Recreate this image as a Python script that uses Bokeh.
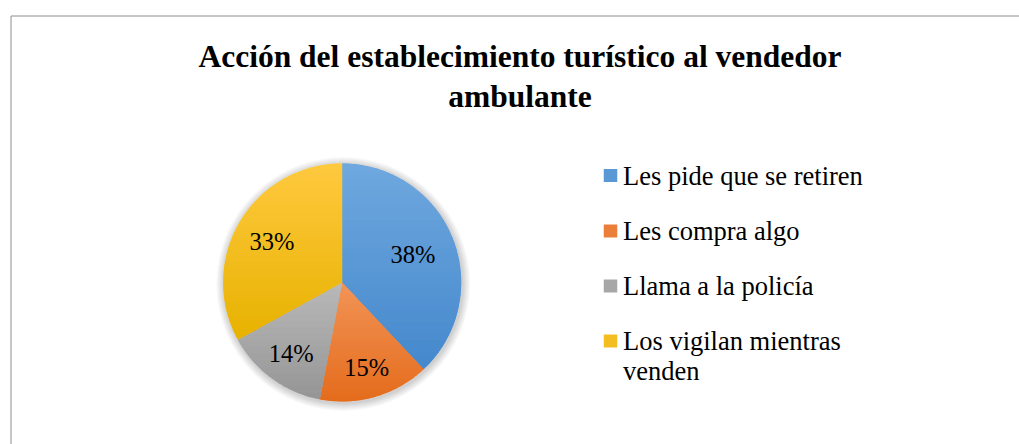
import numpy as np
from bokeh.plotting import figure
from bokeh.models import Range1d
from bokeh.core.properties import value
from bokeh.embed import file_html
from bokeh.resources import INLINE

# ---------------- data ----------------
title_lines = ["Acción del establecimiento turístico al vendedor", "ambulante"]
categories = ["Les pide que se retiren", "Les compra algo", "Llama a la policía",
              "Los vigilan mientras\nvenden"]
values = [38, 15, 14, 33]
pct_labels = ["38%", "15%", "14%", "33%"]

# ---------------- style ----------------
top_colors = ["#6FA8DF", "#F29458", "#B9B9B9", "#FFC93F"]
bot_colors = ["#4488CC", "#E46C1C", "#959595", "#E7B200"]
mid_colors = ["#5A98D6", "#EB7F3A", "#A7A7A7", "#F3BE1F"]
FONT = "Liberation Serif"
TDY = 8.0  # text baseline correction (px, upward)

W, H = 1019, 444
OX, OY = 0, 0
def px(X):  # image x -> data x
    return X - OX
def py(Y):  # image y -> data y
    return H - (Y - OY)

p = figure(width=W, height=H, x_range=Range1d(0, W), y_range=Range1d(0, H),
           output_backend="svg", toolbar_location=None, min_border=0,
           outline_line_color=None, background_fill_color="white",
           border_fill_color="white")
p.axis.visible = False
p.grid.visible = False

# chart border (cropped: only top and left visible)
p.line([px(10.5), px(10.5), px(1040)], [py(470), py(15.5), py(15.5)],
       line_color="#8E8E8E", line_width=1)

# ---------------- pie ----------------
cx, cy, R = px(341.7), py(282.0), 119.0

# soft shadow
for k in range(1, 9):
    p.circle(x=[cx + 1.0], y=[cy - 1.5], radius=R + k, fill_color="black",
             fill_alpha=0.022, line_color=None)
p.circle(x=[cx], y=[cy], radius=R, fill_color="white", line_color=None)

vals = np.array(values, dtype=float)
frac = vals / vals.sum()
cum = np.concatenate([[0], np.cumsum(frac)])
start = np.pi / 2 - 2 * np.pi * cum[:-1]
end = np.pi / 2 - 2 * np.pi * cum[1:]

# base wedges (solid)
p.wedge(x=cx, y=cy, radius=R, start_angle=end, end_angle=start,
        fill_color=mid_colors, line_color=None)

def clip(poly, yb, keep_above):
    out = []
    n = len(poly)
    for i in range(n):
        a = poly[i]; b = poly[(i + 1) % n]
        ina = a[1] >= yb if keep_above else a[1] <= yb
        inb = b[1] >= yb if keep_above else b[1] <= yb
        if ina:
            out.append(a)
        if ina != inb:
            t = (yb - a[1]) / (b[1] - a[1])
            out.append((a[0] + t * (b[0] - a[0]), yb))
    return out

def hex2rgb(h):
    return np.array([int(h[i:i + 2], 16) for i in (1, 3, 5)], dtype=float)

xs_b, ys_b, cols_b = [], [], []
NB = 36
for i in range(len(values)):
    th = np.linspace(start[i], end[i], 120)
    poly = [(cx, cy)] + [(cx + R * np.cos(t), cy + R * np.sin(t)) for t in th]
    ymin = min(q[1] for q in poly); ymax = max(q[1] for q in poly)
    c0, c1 = hex2rgb(top_colors[i]), hex2rgb(bot_colors[i])
    edges = np.linspace(ymax, ymin, NB + 1)
    for j in range(NB):
        y_hi, y_lo = edges[j] + 0.4, edges[j + 1] - 0.4
        sub = clip(clip(poly, y_lo, True), y_hi, False)
        if len(sub) < 3:
            continue
        t = (j + 0.5) / NB
        c = (1 - t) * c0 + t * c1
        xs_b.append([q[0] for q in sub]); ys_b.append([q[1] for q in sub])
        cols_b.append("#%02x%02x%02x" % tuple(int(round(v)) for v in c))
p.patches(xs_b, ys_b, fill_color=cols_b, line_color=None)

# percentage labels
label_r = [0.64, 0.74, 0.73, 0.685]
mid = (start + end) / 2
lx = cx + np.array(label_r) * R * np.cos(mid)
ly = cy + np.array(label_r) * R * np.sin(mid) - 8.5 + TDY
p.text(x=lx, y=ly, text=pct_labels, text_align="center", text_baseline="alphabetic",
       text_font=value(FONT), text_font_size="24.5px", text_color="#000000")

# ---------------- title ----------------
p.text(x=[px(519.5), px(519.5)], y=[py(63.5) + TDY, py(103.5) + TDY], text=title_lines,
       text_align="center", text_baseline="alphabetic", text_font=value(FONT),
       text_font_size="31.5px", text_font_style="bold", text_color="#000000")

# ---------------- legend ----------------
row_c = [175.0, 230.5, 285.5, 340.5]
sq_x = [px(610.0)] * 4
sq_y = [py(c) for c in row_c]
p.rect(x=sq_x, y=sq_y, width=13.5, height=13, fill_color=mid_colors, line_color=None)
leg_x, leg_y, leg_t = [], [], []
for i, cat in enumerate(categories):
    for k, ln in enumerate(cat.split("\n")):
        leg_x.append(px(622.5))
        leg_y.append(py(row_c[i] + 8.3 + 30 * k) + TDY)
        leg_t.append(ln)
p.text(x=leg_x, y=leg_y, text=leg_t, text_align="left", text_baseline="alphabetic",
       text_font=value(FONT), text_font_size="26.5px", text_color="#000000")

open("out.html", "w").write(file_html(p, INLINE))
